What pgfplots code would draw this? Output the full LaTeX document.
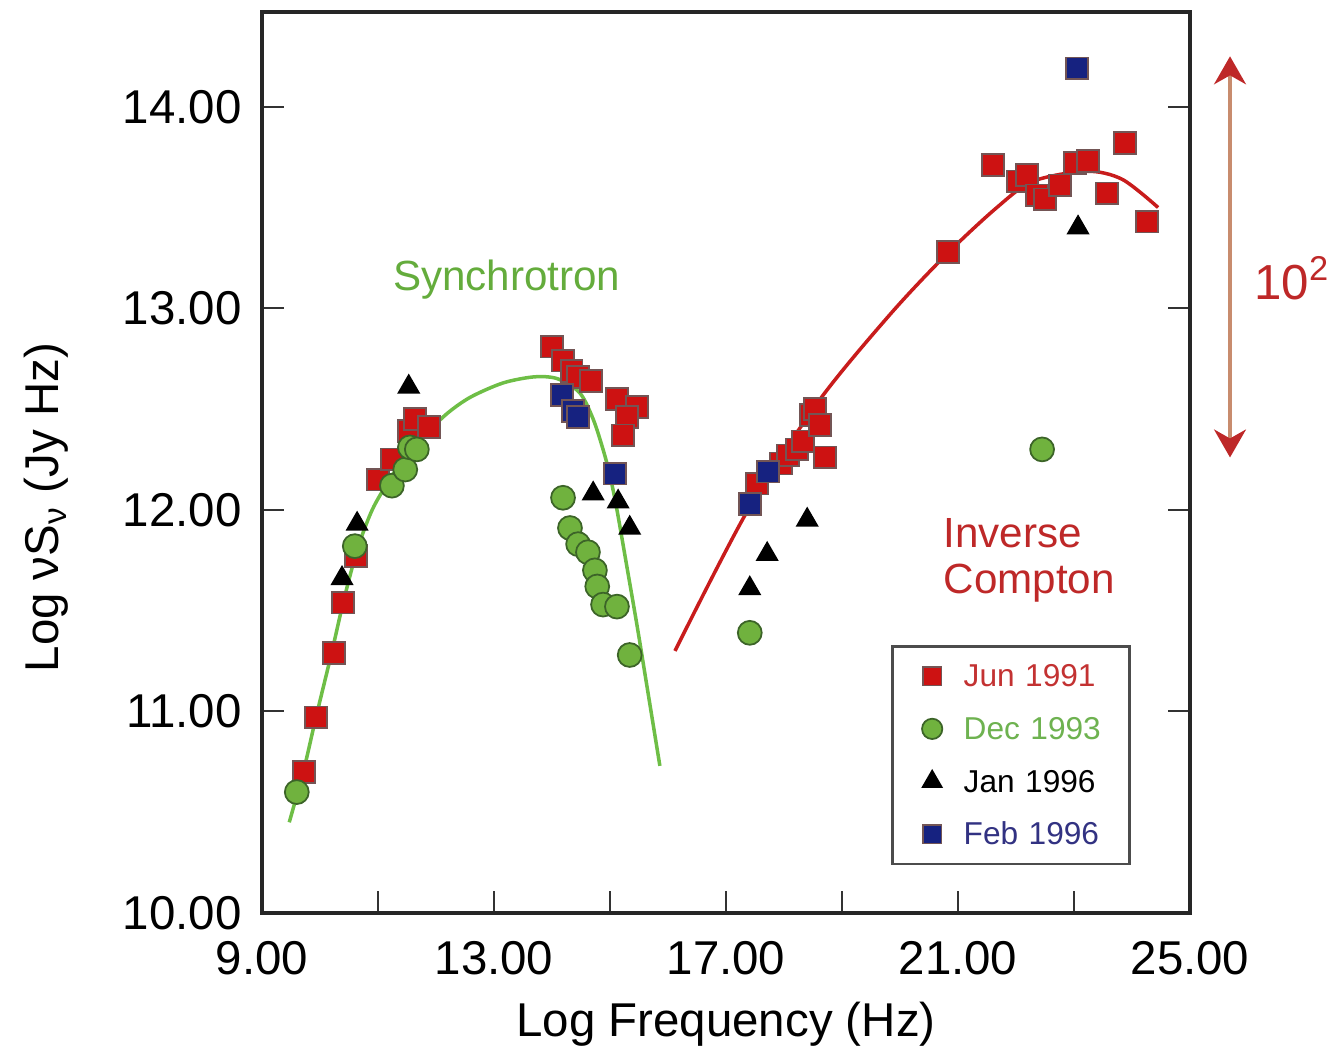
\documentclass[border=0pt]{standalone}
\usepackage{fontspec}
\setmainfont{Liberation Sans}
\usepackage{pgfplots}
\pgfplotsset{compat=1.18}
\usetikzlibrary{arrows.meta}
\definecolor{sqred}{RGB}{205,18,18}
\definecolor{sqedge}{RGB}{115,85,85}
\definecolor{cgreen}{RGB}{112,178,62}
\definecolor{cedge}{RGB}{60,100,40}
\definecolor{sqblue}{RGB}{22,34,128}
\definecolor{curvegreen}{RGB}{110,190,70}
\definecolor{curvered}{RGB}{200,28,28}
\definecolor{txtgreen}{RGB}{100,172,60}
\definecolor{txtred}{RGB}{190,40,40}
\definecolor{legred}{RGB}{195,50,50}
\definecolor{leggreen}{RGB}{110,178,80}
\definecolor{legblue}{RGB}{50,50,130}
\definecolor{arrowtan}{RGB}{200,140,110}
\begin{document}
\begin{tikzpicture}
\begin{axis}[
  name=ax,
  scale only axis,
  width=92.8mm, height=90.1mm,
  xmin=9, xmax=25, ymin=10, ymax=14.47,
  clip=false,
  axis line style={line width=0.9pt, black!85},
  xtick={9,13,17,21,25},
  minor xtick={11,15,19,23},
  ytick={10,11,12,13,14},
  xtick pos=bottom,
  ytick pos=both,
  tick align=inside,
  major tick length=2.2mm,
  minor tick length=2.2mm,
  tick style={line width=0.6pt, black!80},
  /pgf/number format/assume math mode=true,
  /pgf/number format/.cd, fixed, fixed zerofill, precision=2, 1000 sep={},
  /pgfplots/.cd,
  tick label style={font=\fontsize{13.5}{16}\selectfont},
  yticklabel style={xshift=-0.8mm},
  xticklabel style={yshift=-1.6mm},
  xlabel={Log Frequency (Hz)},
  ylabel={Log νS\textsubscript{ν} (Jy Hz)},
  label style={font=\fontsize{13.5}{16}\selectfont},
  xlabel style={at={(axis description cs:0.5,-0.124)}, anchor=center},
  ylabel style={at={(axis description cs:-0.232,0.45)}, anchor=center, rotate=0},
  legend style={at={(0.678,0.2974)}, anchor=north west,
    draw=black!70, line width=0.7pt, fill=white,
    font=\fontsize{9}{11}\selectfont,
    inner xsep=3pt, inner ysep=3.5pt, row sep=5pt,
    nodes={text height=7pt, text depth=1pt, inner ysep=1pt, inner xsep=1.5pt, text width=15mm, align=left}},
  legend cell align=left,
  legend image code/.code={\path (-2.8mm,0) (2.5mm,0); \draw[#1, scale=0.85] plot coordinates {(0mm,0mm)};},
]
% Jun 1991
\addplot[only marks, mark=square*, mark size=3.1pt, mark options={fill=sqred, draw=sqedge, line width=0.5pt}] table {
9.72 10.70
9.93 10.97
10.24 11.29
10.40 11.54
10.62 11.77
11.00 12.15
11.24 12.25
11.53 12.39
11.64 12.45
11.88 12.41
14.00 12.81
14.19 12.74
14.34 12.69
14.45 12.66
14.67 12.64
15.12 12.55
15.47 12.51
15.29 12.46
15.22 12.37
17.53 12.13
17.95 12.23
18.07 12.27
18.22 12.30
18.33 12.34
18.47 12.47
18.53 12.50
18.62 12.42
18.71 12.26
20.83 13.28
21.60 13.71
22.03 13.63
22.19 13.66
22.36 13.56
22.50 13.54
22.76 13.61
23.02 13.72
23.24 13.73
23.57 13.57
23.88 13.82
24.26 13.43
};
\addlegendentry{\textcolor{legred}{Jun 1991}}
% Dec 1993
\addplot[only marks, mark=*, mark size=3.4pt, mark options={fill=cgreen, draw=cedge, line width=0.5pt}] table {
9.60 10.60
10.60 11.82
11.24 12.12
11.47 12.20
11.55 12.31
11.67 12.30
14.19 12.06
14.31 11.91
14.45 11.83
14.62 11.79
14.74 11.70
14.78 11.62
14.88 11.53
15.12 11.52
15.34 11.28
17.41 11.39
22.45 12.30
};
\addlegendentry{\textcolor{leggreen}{Dec 1993}}
% Jan 1996
\addplot[only marks, mark=triangle*, mark size=3.4pt, mark options={fill=black, draw=black}] table {
10.38 11.66
10.64 11.93
11.53 12.61
14.71 12.08
15.14 12.04
15.34 11.91
17.41 11.61
17.71 11.78
18.40 11.95
23.07 13.40
};
\addlegendentry{Jan 1996}
% Feb 1996
\addplot[only marks, mark=square*, mark size=3.1pt, mark options={fill=sqblue, draw=sqedge, line width=0.5pt}] table {
14.17 12.57
14.36 12.49
14.45 12.46
15.09 12.18
17.41 12.03
17.72 12.19
23.05 14.19
};
\addlegendentry{\textcolor{legblue}{Feb 1996}}
% Synchrotron curve
\addplot[forget plot, no marks, smooth, curvegreen, line width=1pt] coordinates {
(9.47,10.45) (9.72,10.71) (9.93,10.97) (10.20,11.29) (10.40,11.54) (10.64,11.80)
(10.90,12.00) (11.20,12.15) (11.50,12.28) (11.80,12.37) (12.20,12.48) (12.60,12.56)
(13.16,12.63) (13.70,12.66) (14.10,12.65) (14.48,12.58) (14.71,12.45) (14.88,12.30)
(15.00,12.17) (15.12,12.00) (15.29,11.72) (15.47,11.42) (15.64,11.12) (15.86,10.73)
};
% Inverse Compton curve
\addplot[forget plot, no marks, smooth, curvered, line width=1pt] coordinates {
(16.12,11.30) (17.36,11.99) (18.60,12.54) (19.83,12.97) (20.81,13.27)
(21.67,13.50) (22.29,13.63) (23.21,13.68) (23.83,13.64) (24.45,13.50)
};
\node[text=txtgreen, font=\fontsize{12}{14}\selectfont] at (axis cs:13.22,13.14) {Synchrotron};
\node[text=txtred, font=\fontsize{12}{13.3}\selectfont, anchor=west, align=left, inner sep=0pt] at (axis cs:20.74,11.75) {Inverse\\Compton};
\draw[arrowtan, line width=0.9pt,
  {Stealth[color=txtred, width=3.2mm, length=2.8mm, inset=0.9mm]}-{Stealth[color=txtred, width=3.2mm, length=2.8mm, inset=0.9mm]}]
  (axis cs:25.69,14.25) -- (axis cs:25.69,12.26);
\node[text=txtred, font=\fontsize{14}{16}\selectfont, anchor=west, inner sep=0pt] at (axis cs:26.1,13.15) {10\textsuperscript{2}};
\end{axis}
\pgfresetboundingbox
\path[use as bounding box] (ax.south west) ++(-26.2mm,-14.3mm) rectangle ++(134.2mm,105.6mm);
\end{tikzpicture}
\end{document}
